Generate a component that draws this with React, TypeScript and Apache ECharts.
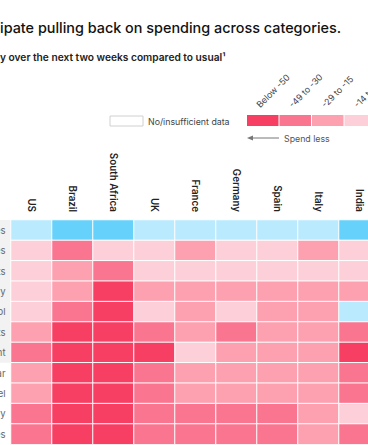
import React, { useEffect, useRef } from "react";
import * as echarts from "echarts";

const countries = ["US", "Brazil", "South Africa", "UK", "France", "Germany", "Spain", "Italy", "India"];
const categories = [
  "Groceries",
  "Household supplies",
  "Personal-care products",
  "Food takeout and delivery",
  "Alcohol",
  "Tobacco products",
  "Home entertainment",
  "Footwear",
  "Apparel",
  "Jewelry",
  "Accessories",
];
// net intent to spend (%), one row per category, columns follow `countries`
const r01 = [7, 22, 22, 7, 7, 7, 7, 7, 22];
const r02 = [-7, -40, -7, -7, -22, -7, -7, -22, -7];
const r03 = [-7, -22, -40, -7, -7, -7, -7, -7, -7];
const r04 = [-7, -22, -55, -22, -22, -22, -22, -22, -22];
const r05 = [-7, -40, -55, -7, -22, -7, -22, -22, 7];
const r06 = [-22, -55, -55, -40, -22, -40, -22, -22, -40];
const r07 = [-40, -55, -55, -55, -7, -22, -22, -22, -55];
const r08 = [-22, -55, -55, -40, -22, -22, -22, -22, -40];
const r09 = [-22, -55, -55, -40, -22, -22, -22, -22, -40];
const r10 = [-40, -55, -55, -40, -40, -40, -40, -22, -7];
const r11 = [-40, -55, -55, -40, -40, -40, -40, -22, -40];
const rows = [r01, r02, r03, r04, r05, r06, r07, r08, r09, r10, r11];
const essentialRows = 7;

const legendLabels = ["Below -50", "-49 to -30", "-29 to -15", "-14 to -1"];
const legendColors = ["#f73e63", "#fa7690", "#fda1b1", "#fdd0d9"];
const blueLight = "#b9eafe";
const blueDark = "#66d2fb";

const titleText = "ipate pulling back on spending across categories.";
const subtitleText = "y over the next two weeks compared to usual\u00b9";

export default function App() {
  const ref = useRef<HTMLDivElement>(null);
  useEffect(() => {
    if (!ref.current) return;
    const chart = echarts.init(ref.current, null, { renderer: "svg" });
    const data: number[][] = [];
    rows.forEach((row, yi) => row.forEach((v, xi) => data.push([xi, yi, v])));
    const gridLeft = 11;
    const gridTop = 220;
    const cellW = 41;
    const cellH = 20.4;
    const font = "Inter, 'Liberation Sans', Arial, sans-serif";
    const legX = 247;
    const legY = 115;
    const boxW = 32.5;
    const graphics: any[] = [
      {
        type: "text",
        x: 0,
        y: 20,
        style: { text: titleText, font: `500 14.4px ${font}`, fill: "#111" },
      },
      {
        type: "text",
        x: 0,
        y: 52,
        style: { text: subtitleText, font: `600 10.2px ${font}`, fill: "#222" },
      },
      {
        type: "rect",
        shape: { x: 110, y: 116, width: 33, height: 10 },
        style: { fill: "#fff", stroke: "#d0d0d0", lineWidth: 1 },
      },
      {
        type: "text",
        x: 148,
        y: 121,
        style: { text: "No/insufficient data", font: `400 8.8px ${font}`, fill: "#444", verticalAlign: "middle" },
      },
      {
        type: "line",
        shape: { x1: legX + 3, y1: 138, x2: legX + 32, y2: 138 },
        style: { stroke: "#777", lineWidth: 1 },
      },
      {
        type: "polygon",
        shape: { points: [[legX, 138], [legX + 6, 135.5], [legX + 6, 140.5]] },
        style: { fill: "#777" },
      },
      {
        type: "text",
        x: legX + 37,
        y: 138,
        style: { text: "Spend less", font: `400 8.8px ${font}`, fill: "#555", verticalAlign: "middle" },
      },
      {
        type: "rect",
        z: -1,
        shape: { x: 0, y: gridTop, width: gridLeft, height: cellH * essentialRows },
        style: { fill: "#f2f2f2" },
      },
    ];
    legendColors.forEach((c, i) => {
      graphics.push({
        type: "rect",
        shape: { x: legX + i * boxW, y: legY, width: boxW - 1, height: 11 },
        style: { fill: c },
      });
      graphics.push({
        type: "text",
        x: legX + i * boxW + 14,
        y: legY - 6,
        rotation: Math.PI / 4,
        style: { text: legendLabels[i], font: `400 8.8px ${font}`, fill: "#444", align: "left", verticalAlign: "bottom" },
      });
    });

    chart.setOption({
      animation: false,
      grid: {
        left: gridLeft,
        top: gridTop,
        width: cellW * countries.length,
        height: cellH * categories.length,
        outerBoundsMode: "none",
        containLabel: false,
      },
      xAxis: {
        type: "category",
        position: "top",
        data: countries,
        axisLine: { show: false },
        axisTick: { show: false },
        splitLine: { show: false },
        axisLabel: {
          rotate: 90,
          interval: 0,
          margin: 8,
          fontSize: 9.8,
          fontWeight: 600,
          color: "#222",
          fontFamily: font,
        },
      },
      yAxis: {
        type: "category",
        inverse: true,
        data: categories,
        axisLine: { show: false },
        axisTick: { show: false },
        splitLine: { show: false },
        axisLabel: { interval: 0, margin: 5.5, fontSize: 9.5, color: "#666", fontFamily: font },
      },
      visualMap: {
        type: "piecewise",
        show: false,
        dimension: 2,
        pieces: [
          { lt: -49.5, color: legendColors[0] },
          { gte: -49.5, lt: -29.5, color: legendColors[1] },
          { gte: -29.5, lt: -14.5, color: legendColors[2] },
          { gte: -14.5, lt: 0, color: legendColors[3] },
          { gte: 0, lt: 15, color: blueLight },
          { gte: 15, color: blueDark },
        ],
      },
      series: [
        {
          type: "heatmap",
          data,
          itemStyle: { borderColor: "#fff", borderWidth: 1 },
          emphasis: { disabled: true },
        },
      ],
      graphic: graphics,
    });
    return () => chart.dispose();
  }, []);
  return <div ref={ref} style={{ position: "fixed", left: 0, top: 0, width: 368, height: 445, background: "#fff" }} />;
}
